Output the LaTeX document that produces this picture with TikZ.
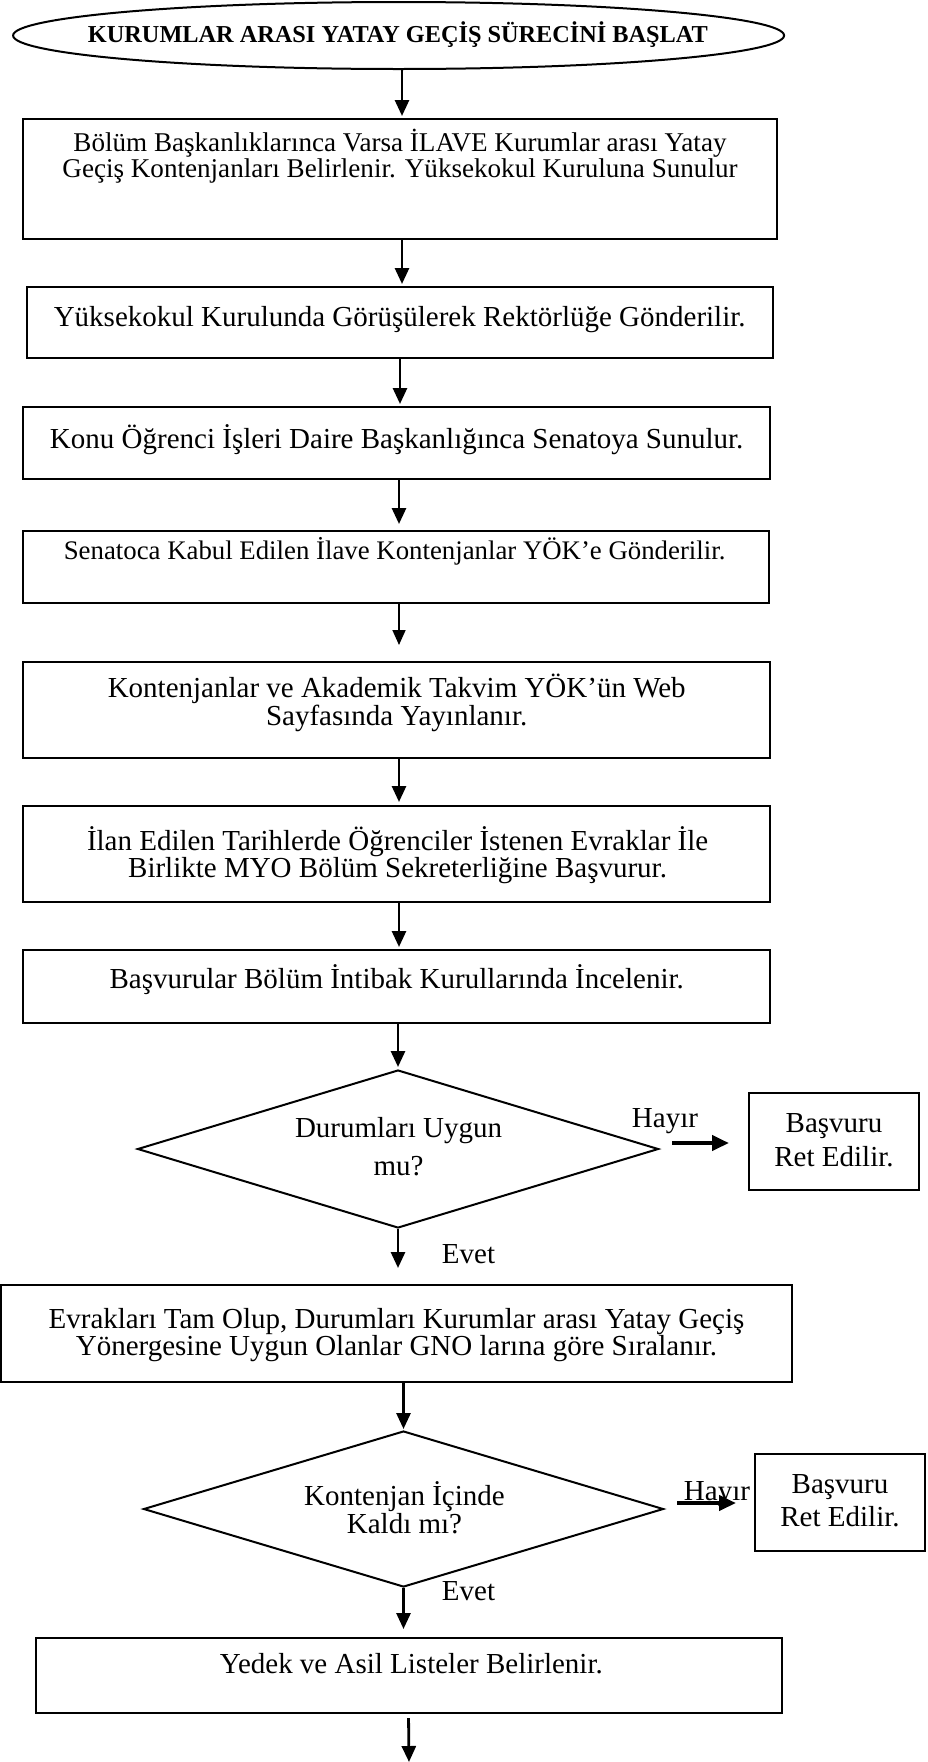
\documentclass[tikz,border=0pt]{standalone}
\usepackage{fontspec}
\setmainfont{Liberation Serif}
\usetikzlibrary{shapes.geometric, arrows.meta, calc}

\begin{document}
\begin{tikzpicture}[x=1pt, y=-1pt,
  box/.style={draw, rectangle, line width=2pt, inner sep=0pt},
  lbl/.style={anchor=base, align=center, inner sep=0pt, font=\fontsize{29}{27}\selectfont},
  arr/.style={line width=2.8pt, -{Triangle[length=16pt, width=14pt]}},
  thinarr/.style={line width=1.7pt, -{Triangle[length=15pt, width=13pt]}},
  sidearr/.style={line width=4pt, -{Triangle[length=17pt, width=15pt]}}]

\useasboundingbox (0,0) rectangle (927,1762);

% columns used by the vertical connectors
\coordinate (colA) at (402,0);
\coordinate (colB) at (400,0);
\coordinate (colC) at (399,0);
\coordinate (finish) at (409,1762);

% start terminator
\node[draw, ellipse, line width=2pt, minimum width=771pt, minimum height=67pt, inner sep=0pt] (start) at (398.6,35.5) {};
\node[lbl, font=\bfseries\fontsize{24.3}{26}\selectfont] (starttxt) at (398,42.7) {KURUMLAR ARASI YATAY GEÇİŞ SÜRECİNİ BAŞLAT};

% process boxes
\node[box, minimum width=754pt, minimum height=120pt] (b1) at (400,179) {};
\node[box, minimum width=746pt, minimum height=71pt] (b2) at (399.6,322.5) {};
\node[box, minimum width=747pt, minimum height=72pt] (b3) at (396,443) {};
\node[box, minimum width=746pt, minimum height=72pt] (b4) at (395.5,567) {};
\node[box, minimum width=747pt, minimum height=96pt] (b5) at (396,710) {};
\node[box, minimum width=747pt, minimum height=96pt] (b6) at (396,854) {};
\node[box, minimum width=747pt, minimum height=73pt] (b7) at (396,986.5) {};
\node[draw, diamond, line width=2pt, minimum width=521pt, minimum height=158pt, inner sep=0pt] (d1) at (398,1149) {};
\node[box, minimum width=170pt, minimum height=97pt] (r1) at (834,1141.5) {};
\node[box, minimum width=791pt, minimum height=97pt] (b8) at (396.5,1333.5) {};
\node[draw, diamond, line width=2pt, minimum width=520pt, minimum height=156pt, inner sep=0pt] (d2) at (403.5,1509) {};
\node[box, minimum width=170pt, minimum height=97pt] (r2) at (840,1502.5) {};
\node[box, minimum width=746pt, minimum height=75pt] (b9) at (408.5,1675.5) {};

% texts (multi-line labels sit on the baseline of their last line)
\node[lbl, font=\fontsize{27.1}{23}\selectfont] (t1) at (400,177) {Bölüm Başkanlıklarınca Varsa İLAVE Kurumlar arası Yatay\\Geçiş Kontenjanları Belirlenir. Yüksekokul Kuruluna Sunulur};
\node[lbl] (t2) at (399.7,326) {Yüksekokul Kurulunda Görüşülerek Rektörlüğe Gönderilir.};
\node[lbl] (t3) at (396.7,448) {Konu Öğrenci İşleri Daire Başkanlığınca Senatoya Sunulur.};
\node[lbl, font=\fontsize{26.8}{30}\selectfont] (t4) at (394.6,559) {Senatoca Kabul Edilen İlave Kontenjanlar YÖK’e Gönderilir.};
\node[lbl, font=\fontsize{29}{25}\selectfont] (t5) at (396.7,725) {Kontenjanlar ve Akademik Takvim YÖK’ün Web\\Sayfasında Yayınlanır.};
\node[lbl] (t6) at (397.6,877) {İlan Edilen Tarihlerde Öğrenciler İstenen Evraklar İle\\Birlikte MYO Bölüm Sekreterliğine Başvurur.};
\node[lbl] (t7) at (396.7,988) {Başvurular Bölüm İntibak Kurullarında İncelenir.};
\node[lbl, font=\fontsize{29}{38}\selectfont] (q1) at (398.5,1175) {Durumları Uygun\\mu?};
\node[lbl] (no1) at (665,1127) {Hayır};
\node[lbl, font=\fontsize{29}{34}\selectfont] (rt1) at (834,1166) {Başvuru\\Ret Edilir.};
\node[lbl] (yes1) at (468.5,1263) {Evet};
\node[lbl] (t8) at (396.5,1355) {Evrakları Tam Olup, Durumları Kurumlar arası Yatay Geçiş\\Yönergesine Uygun Olanlar GNO larına göre Sıralanır.};
\node[lbl, font=\fontsize{29}{28}\selectfont] (q2) at (404.5,1533) {Kontenjan İçinde\\Kaldı mı?};
\node[lbl] (no2) at (717,1500) {Hayır};
\node[lbl, font=\fontsize{29}{33}\selectfont] (rt2) at (840,1526) {Başvuru\\Ret Edilir.};
\node[lbl] (yes2) at (468.5,1600) {Evet};
\node[lbl] (t9) at (411.4,1673) {Yedek ve Asil Listeler Belirlenir.};

% connectors
\draw[arr, shorten >=2pt] (colA |- start.south) -- (colA |- b1.north);
\draw[arr, shorten >=2pt] (colA |- b1.south) -- (colA |- b2.north);
\draw[arr, shorten >=2pt] (colB |- b2.south) -- (colB |- b3.north);
\draw[arr, shorten >=6pt] (colC |- b3.south) -- (colC |- b4.north);
\draw[thinarr, shorten >=16pt] (colC |- b4.south) -- (colC |- b5.north);
\draw[arr, shorten >=3pt] (colC |- b5.south) -- (colC |- b6.north);
\draw[arr, shorten >=2pt] (colC |- b6.south) -- (colC |- b7.north);
\draw[arr, shorten >=2pt] (d1.north |- b7.south) -- (d1.north);
\draw[sidearr] ($(r1.west)+(-76,1.5)$) -- ($(r1.west)+(-19,1.5)$);
\draw[arr, shorten >=16pt] (d1.south) -- (d1.south |- b8.north);
\draw[arr, shorten >=1pt] (d2.north |- b8.south) -- (d2.north);
\draw[sidearr] ($(r2.west)+(-77,0.5)$) -- ($(r2.west)+(-18,0.5)$);
\draw[arr, shorten >=8pt] (d2.south) -- (d2.south |- b9.north);
\draw[arr, shorten <=4pt] (b9.south) -- (finish);

\end{tikzpicture}
\end{document}
